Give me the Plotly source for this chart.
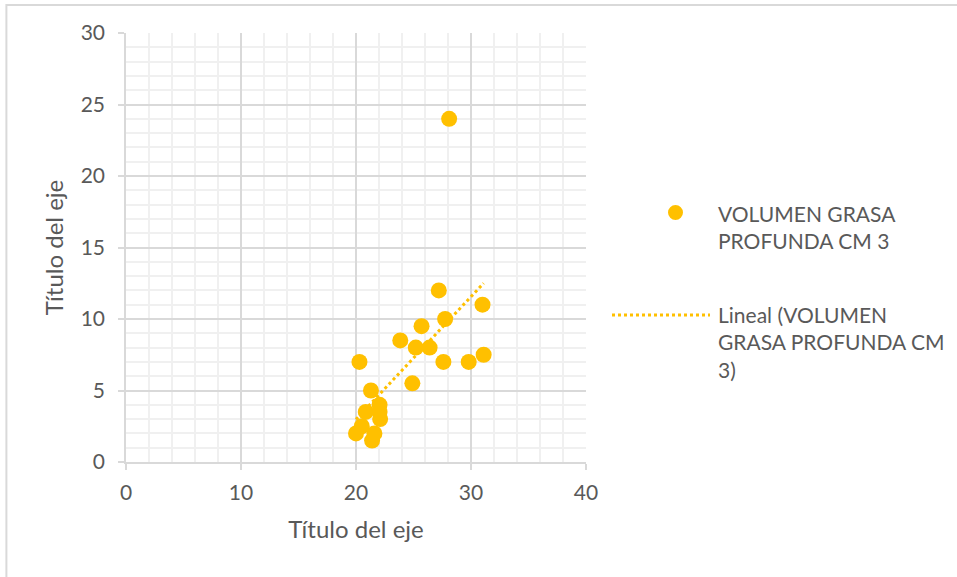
import numpy as np
import plotly.graph_objects as go

# Grasa corporal (x) frente a volumen de grasa profunda (y)
x_vals = [27.2, 31.0, 27.75, 25.7, 23.85, 25.2, 26.4, 20.3, 27.6, 29.8, 31.1,
          24.9, 21.3, 22.05, 22.05, 20.85, 22.1, 20.5, 20.0, 21.6, 21.4, 28.1]
y_vals = [12.0, 11.0, 10.0, 9.5, 8.5, 8.0, 8.0, 7.0, 7.0, 7.0, 7.5,
          5.5, 5.0, 4.0, 3.5, 3.5, 3.0, 2.5, 2.0, 2.0, 1.5, 24.0]

series_name = "VOLUMEN GRASA PROFUNDA CM 3"
trend_name = "Lineal (VOLUMEN GRASA PROFUNDA CM 3)"
x_title = "Título del eje"
y_title = "Título del eje"

GOLD = "#FFC000"
TEXT = "#595959"
FONT = "Lato, Open Sans, sans-serif"

# Linear least-squares trend line over the data
slope, intercept = np.polyfit(x_vals, y_vals, 1)
tx = np.array([min(x_vals), max(x_vals)])
ty = slope * tx + intercept

fig = go.Figure()
fig.add_trace(go.Scatter(
    x=tx, y=ty, mode="lines", name=trend_name, showlegend=False,
    line=dict(color=GOLD, width=3, dash="dot"), hoverinfo="skip"))
fig.add_trace(go.Scatter(
    x=x_vals, y=y_vals, mode="markers", name=series_name, showlegend=False,
    marker=dict(color=GOLD, size=16, line=dict(width=0))))

axis_common = dict(
    showline=True, linecolor="#D9D9D9", linewidth=1.5,
    gridcolor="#D9D9D9", gridwidth=1.5,
    ticks="outside", ticklen=6, tickcolor="#D9D9D9", tickwidth=1.5,
    tickfont=dict(family=FONT, size=21, color=TEXT),
    zeroline=False,
    minor=dict(showgrid=True, gridcolor="#F0F0F0", gridwidth=1.5, ticks=""),
)

fig.update_xaxes(range=[0, 40], dtick=10, minor_dtick=2, ticklabelstandoff=5,
                 title=dict(text=x_title, font=dict(family=FONT, size=24, color=TEXT), standoff=18),
                 **axis_common)
fig.update_yaxes(range=[0, 30], dtick=5, minor_dtick=1, ticklabelstandoff=9,
                 title=dict(text=y_title, font=dict(family=FONT, size=24, color=TEXT), standoff=10),
                 **axis_common)

# Legend drawn beside the plot area
shapes = [
    dict(type="rect", xref="paper", yref="paper", x0=-0.260, x1=1.9, y0=-0.45, y1=1.065,
         line=dict(color="#D9D9D9", width=2), fillcolor="rgba(0,0,0,0)", layer="below"),
]
annotations = []

def px_to_paper(px, py):
    # plot area spans x 126..586 and y 33..462 in a 957x577 window
    return (px - 126) / 460.0, (462 - py) / 429.0

cx0, cy0 = px_to_paper(668, 205)
cx1, cy1 = px_to_paper(683, 220)
shapes.append(dict(type="circle", xref="paper", yref="paper", x0=cx0, y0=cy0, x1=cx1, y1=cy1,
                   fillcolor=GOLD, line=dict(width=0)))
lx0, ly = px_to_paper(612, 315)
lx1, _ = px_to_paper(710, 315)
shapes.append(dict(type="line", xref="paper", yref="paper", x0=lx0, x1=lx1, y0=ly, y1=ly,
                   line=dict(color=GOLD, width=3, dash="dot")))

for text, (px, py) in [
    ("VOLUMEN GRASA<br>PROFUNDA CM 3", (716, 227)),
    ("Lineal (VOLUMEN<br>GRASA PROFUNDA CM<br>3)", (716, 342)),
]:
    ax_, ay_ = px_to_paper(px, py)
    annotations.append(dict(xref="paper", yref="paper", x=ax_, y=ay_, xanchor="left", yanchor="middle",
                            text=text, showarrow=False, align="left",
                            font=dict(family=FONT, size=21, color=TEXT)))

fig.update_layout(
    width=957, height=577,
    margin=dict(l=126, r=371, t=33, b=115),
    paper_bgcolor="white", plot_bgcolor="white",
    shapes=shapes, annotations=annotations,
    showlegend=False,
)

fig.write_html("out.html")
